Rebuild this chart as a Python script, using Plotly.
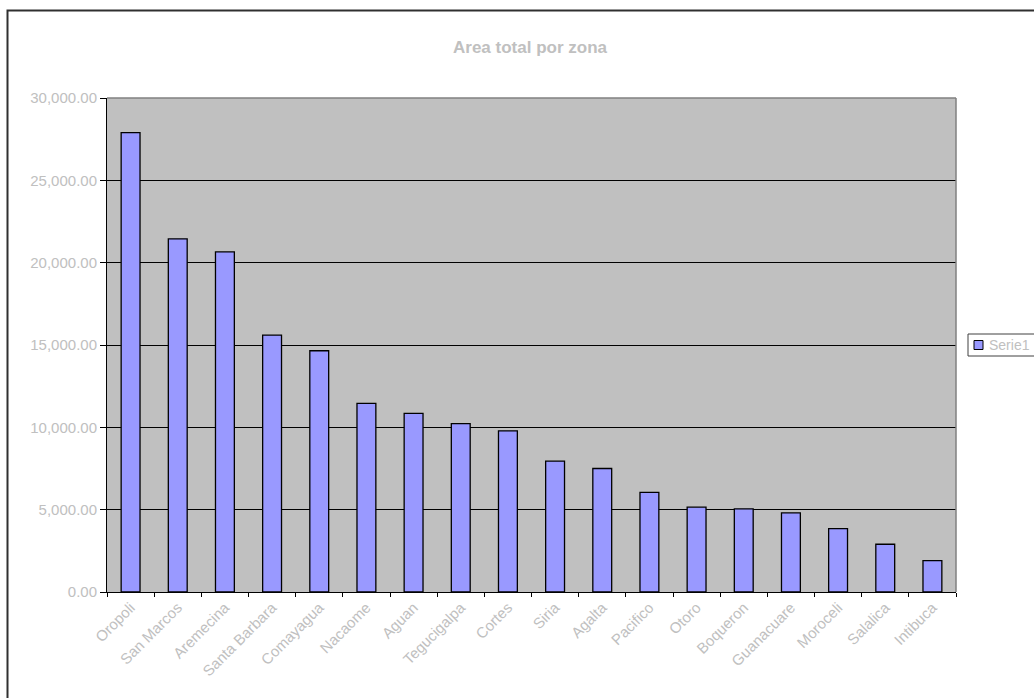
import plotly.graph_objects as go

categories = ["Oropoli", "San Marcos", "Aremecina", "Santa Barbara", "Comayagua", "Nacaome",
              "Aguan", "Tegucigalpa", "Cortes", "Siria", "Agalta", "Pacifico", "Otoro",
              "Boqueron", "Guanacuare", "Moroceli", "Salalica", "Intibuca"]
values = [27900, 21450, 20650, 15600, 14650, 11450, 10850, 10230, 9790, 7950, 7500,
          6050, 5150, 5050, 4800, 3850, 2900, 1900]
series_name = "Serie1"
title_text = "Area total por zona"

FONT = "Arial, 'Liberation Sans', sans-serif"
GRAY_TXT = "#C0C0C0"
BAR_COLOR = "#9999FF"

fig = go.Figure()
fig.add_trace(go.Bar(
    x=categories, y=values, name=series_name,
    marker=dict(color=BAR_COLOR, line=dict(color="#000000", width=1.3)),
    showlegend=False,
))

W, H = 1034, 698
L, R, T, B = 107, 78, 98, 106
pw = W - L - R
ph = H - T - B

def px(x):
    return (x - L) / pw

def py(y):
    return (H - B - y) / ph

fig.update_layout(
    width=W, height=H,
    margin=dict(l=L, r=R, t=T, b=B, pad=0, autoexpand=False),
    paper_bgcolor="white",
    plot_bgcolor="#C0C0C0",
    bargap=0.6,
    font=dict(family=FONT, color=GRAY_TXT, size=15),
    title=dict(text="<b>" + title_text + "</b>", x=530 / W, xanchor="center",
               y=1 - 47 / H, yanchor="middle", yref="container",
               font=dict(family=FONT, size=17, color=GRAY_TXT)),
    showlegend=False,
)

fig.update_xaxes(
    type="category",
    tickangle=-45,
    tickson="boundaries",
    ticks="outside", ticklen=4, tickcolor="#000000", tickwidth=1,
    showline=True, linecolor="#000000", linewidth=1,
    showgrid=False, zeroline=False,
    tickfont=dict(family=FONT, size=15, color=GRAY_TXT),
)
fig.update_yaxes(
    range=[0, 30000], dtick=5000, tickformat=",.2f",
    ticks="outside", ticklen=6, tickcolor="#000000", tickwidth=1,
    showline=True, linecolor="#000000", linewidth=1,
    showgrid=True, gridcolor="#000000", gridwidth=1,
    zeroline=False,
    tickfont=dict(family=FONT, size=15, color=GRAY_TXT),
)

# plot area top/right border (gray)
fig.add_shape(type="line", xref="paper", yref="paper", x0=0, x1=1, y0=1, y1=1,
              line=dict(color="#808080", width=1.5))
fig.add_shape(type="line", xref="paper", yref="paper", x0=1, x1=1, y0=0, y1=1,
              line=dict(color="#808080", width=1.5))
# outer chart border (extends beyond the visible window)
fig.add_shape(type="rect", xref="paper", yref="paper",
              x0=px(7.5), x1=px(W + 40),
              y0=py(H + 60), y1=py(10.5),
              line=dict(color="#303030", width=2), fillcolor="rgba(0,0,0,0)", layer="above")

# legend box (Excel style), extends past the right edge
fig.add_shape(type="rect", xref="paper", yref="paper",
              x0=px(968), x1=px(W + 30), y0=py(356), y1=py(334),
              line=dict(color="#404040", width=1), fillcolor="white")
fig.add_shape(type="rect", xref="paper", yref="paper",
              x0=px(974), x1=px(983), y0=py(349.5), y1=py(340.5),
              line=dict(color="#000000", width=1), fillcolor=BAR_COLOR)
fig.add_annotation(text=series_name, xref="paper", yref="paper",
                   x=px(987), y=py(345), xanchor="left", yanchor="middle",
                   showarrow=False, font=dict(family=FONT, size=14, color=GRAY_TXT))

fig.write_html("out.html")
